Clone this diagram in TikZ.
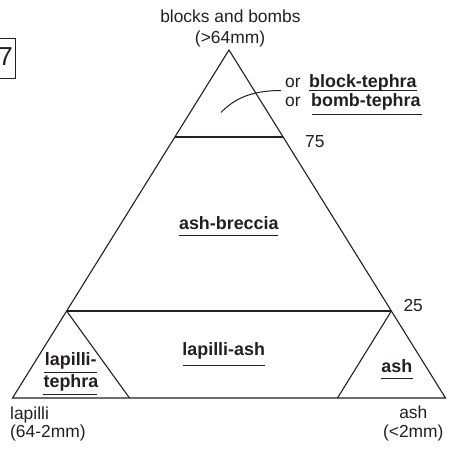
\documentclass[tikz,border=0pt]{standalone}
\usepackage{fontspec}
\setmainfont{Liberation Sans}
\usetikzlibrary{calc}
\definecolor{ink}{RGB}{35,31,32}
\begin{document}
\begin{tikzpicture}[x=1pt,y=-1pt,
  edge/.style={line width=1.1pt, draw=ink, line join=miter},
  lbl/.style={inner sep=0pt, text=ink, font=\fontsize{17.4}{20}\selectfont},
  blbl/.style={inner sep=0pt, text=ink, font=\fontsize{17.9}{20}\selectfont\bfseries},
  uline/.style={line width=1pt, draw=ink}]
\useasboundingbox (0,0) rectangle (449,449);
\clip (0,0) rectangle (449,449);
% vertices
\coordinate (A) at (229,50);
\coordinate (L) at (12.5,398);
\coordinate (R) at (445.5,398);
\coordinate (L75) at ($(A)!0.25!(L)$);
\coordinate (R75) at ($(A)!0.25!(R)$);
\coordinate (L25) at ($(A)!0.75!(L)$);
\coordinate (R25) at ($(A)!0.75!(R)$);
\coordinate (LB) at (129.5,398);
\coordinate (RB) at (337.5,398);
\draw[edge] (A) -- (L) -- (R) -- cycle;
\draw[edge] (L75) -- (R75);
\draw[edge] (L25) -- (R25);
\draw[edge] (L25) -- (LB);
\draw[edge] (R25) -- (RB);
% pointer curve
\coordinate (c1) at (221,112.5);
\coordinate (c2) at (281,90.5);
\draw[edge, line width=1pt] (c1) .. controls (234,99) and (251,90.5) .. (c2);
% figure number box
\draw[line width=1pt, draw=ink] (-10,38.3) rectangle (15.3,78.3);
\node[inner sep=0pt, text=ink, font=\fontsize{26}{28}\selectfont, anchor=base east] (num) at (13,66) {7};
% labels
\node[lbl, anchor=base] (top1) at (230.4,22.5) {blocks and bombs};
\node[lbl, anchor=base] (top2) at (230,43.5) {(>64mm)};
\node[lbl, anchor=base west] (or1) at (285,87.5) {or};
\node[blbl, anchor=base west] (bt) at (309,87.5) {block-tephra};
\node[lbl, anchor=base west] (or2) at (285,107) {or};
\node[blbl, anchor=base west] (bmt) at (311,107) {bomb-tephra};
\draw[uline] (309,90.8) -- (416.5,90.8);
\draw[uline] (311.5,114.3) -- (421.5,114.3);
\node[lbl, anchor=base west] (p75) at (305,148) {75};
\node[lbl, anchor=base west] (p25) at (403.3,311.5) {25};
\node[blbl, anchor=base] (ab) at (228.8,229) {ash-breccia};
\draw[uline] (179.3,235) -- (278.3,235);
\node[blbl, anchor=base] (la) at (223.7,355) {lapilli-ash};
\draw[uline] (183,365) -- (265,365);
\node[blbl, anchor=base] (lt1) at (70.8,365) {lapilli-};
\draw[uline] (44,372) -- (96.7,372);
\node[blbl, anchor=base] (lt2) at (71,387.7) {tephra};
\draw[uline] (43,394) -- (97,394);
\node[blbl, anchor=base] (ashr) at (396.8,372) {ash};
\draw[uline] (381,378) -- (412.7,378);
\node[lbl, anchor=base west] (bl1) at (10,419.3) {lapilli};
\node[lbl, anchor=base west] (bl2) at (10,437.5) {(64-2mm)};
\node[lbl, anchor=base] (br1) at (413.3,418.3) {ash};
\node[lbl, anchor=base] (br2) at (413.3,437) {(<2mm)};
\end{tikzpicture}
\end{document}
